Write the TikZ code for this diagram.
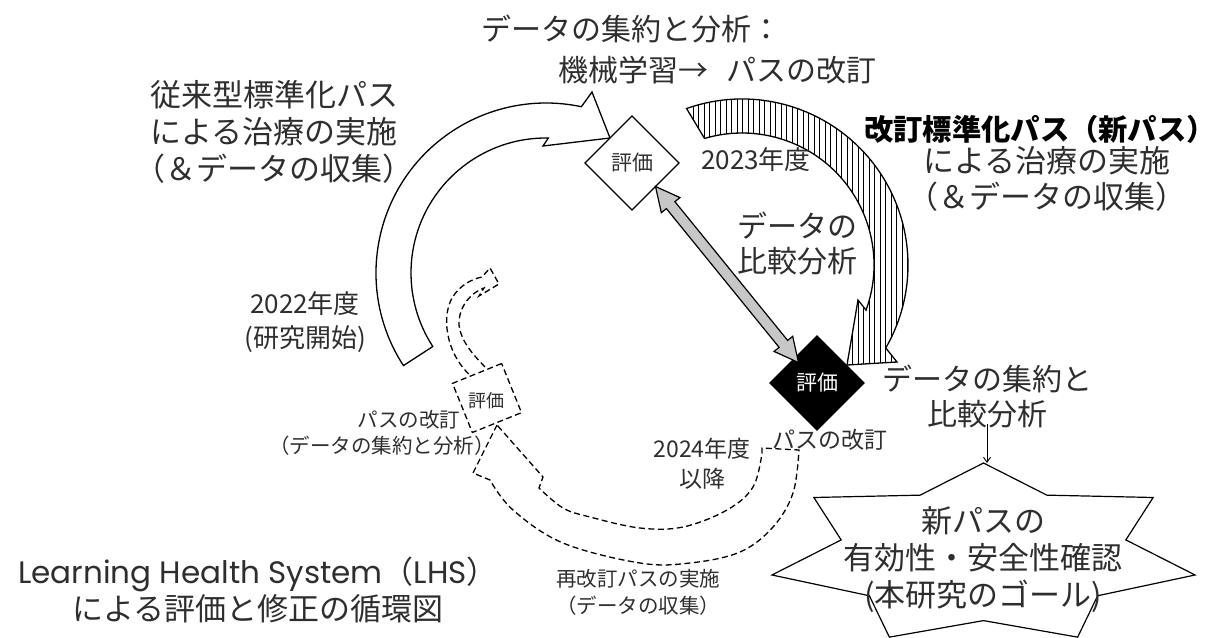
\documentclass[tikz,border=0pt]{standalone}
\usepackage{fontspec}
\setmainfont{Noto Sans CJK JP}
\newfontfamily\latf{Poppins}
\usetikzlibrary{shapes.geometric,calc,patterns.meta,arrows.meta}
\newcommand{\hwp}[1]{{\addfontfeature{RawFeature=+halt}#1}}
\begin{document}
\begin{tikzpicture}[x=1pt,y=-1pt,
  every node/.style={inner sep=0pt, outer sep=0pt, text=black!82},
  shp/.style={draw=black, line width=1.3pt, line join=miter},
  dsh/.style={draw=black, line width=1.3pt, dash pattern=on 6pt off 3.5pt},
  fA/.style={font=\fontsize{31}{37}\selectfont},
  fB/.style={font=\fontsize{30}{35}\selectfont},
  fC/.style={font=\fontsize{26}{34}\selectfont},
  fD/.style={font=\fontsize{23}{30}\selectfont},
  fE/.style={font=\fontsize{21}{25}\selectfont},
  fF/.style={font=\fontsize{20.5}{27}\selectfont},
  fG/.style={font=\fontsize{18}{22}\selectfont},
  evalbox/.style={shape=diamond, aspect=1, minimum width=94pt, minimum height=94pt, line width=1.3pt}
]
\useasboundingbox (0,0) rectangle (1223,637);

% ---------- left white curved arrow (2022) ----------
\coordinate (c1) at (546,273);
\draw[shp, fill=white] ($(c1)+(147:170)$) arc[start angle=147, end angle=282, radius=170]
  -- (592,92) -- (610,138) -- (543,146)
  -- ($(c1)+(271:135)$) arc[start angle=271, end angle=147, radius=135] -- cycle;

% ---------- right hatched curved arrow (2023) ----------
\coordinate (c2) at (742,265);
\draw[shp, preaction={fill=white}, pattern={Lines[angle=90, distance=5.5pt, line width=0.9pt]}]
  ($(c2)+(250.5:166)$) arc[start angle=250.5, end angle=390, radius=166]
  -- (897,362) -- (847,365) -- (858,300)
  -- ($(c2)+(380:132)$) arc[start angle=380, end angle=253.5, radius=132] -- cycle;

% ---------- dashed arrows (2024 and later) ----------
\draw[dsh] (476,380) .. controls (448,360) and (440,320) .. (452,298)
  .. controls (460,285) and (472,279) .. (482,277) -- (490,268) -- (499,284) -- (479,296) -- (484,288)
  .. controls (468,294) and (458,310) .. (459,325) .. controls (461,342) and (474,356) .. (490,372);
\draw[dsh] (497,425) -- (473,473)
  -- plot[smooth, tension=0.6] coordinates {(490,480) (513,510) (563,543) (640,563) (690,563) (740,552) (773,527) (793,493) (799,450)}
  -- (762,448)
  -- plot[smooth, tension=0.6] coordinates {(762,453) (753,487) (727,510) (683,527) (640,528) (590,517) (563,508) (539,488)}
  -- (543,477) -- cycle;

% ---------- evaluation nodes ----------
\node[evalbox, draw=black, fill=white, fE] (ev1) at (632,163) {評価};
\node[evalbox, draw=black, fill=black, text=white, fE] (ev2) at (817,383) {評価};
\node[dsh, fill=white, rotate=22, minimum width=53pt, minimum height=53pt] (ev3) at (487,398) {};
\node[fG] (ev3t) at (486,401) {評価};

% ---------- grey double arrow ----------
\coordinate (A) at (ev1.south east);
\coordinate (B) at ($(ev2.north west)+(5,3)$);
\coordinate (A1) at ($(A)!24pt!(B)$);
\coordinate (B1) at ($(B)!24pt!(A)$);
\draw[shp, fill=black!22, line width=1.2pt] (A) -- ($(A1)!12pt!90:(B)$) -- ($(A1)!5.5pt!90:(B)$)
  -- ($(B1)!5.5pt!-90:(A)$) -- ($(B1)!12pt!-90:(A)$) -- (B)
  -- ($(B1)!12pt!90:(A)$) -- ($(B1)!5.5pt!90:(A)$)
  -- ($(A1)!5.5pt!-90:(B)$) -- ($(A1)!12pt!-90:(B)$) -- cycle;

% ---------- goal star ----------
\begin{scope}[shift={(983.5,554.6)}]
\draw[shp, fill=white, line width=1.2pt]
  (270:217 and 91.6) -- (295.71:146 and 66) -- (321.43:217 and 91.6) -- (347.14:146 and 66)
  -- (372.86:217 and 91.6) -- (38.57:146 and 66) -- (64.29:217 and 91.6) -- (90:146 and 66)
  -- (115.71:217 and 91.6) -- (141.43:146 and 66) -- (167.14:217 and 91.6) -- (192.86:146 and 66)
  -- (218.57:217 and 91.6) -- (244.29:146 and 66) -- cycle;
\coordinate (startop) at (270:217 and 91.6);
\end{scope}
\node[fA, align=center] (goal) at (983,560) {新パスの\\有効性・安全性確認\\(本研究のゴール)};

% ---------- texts ----------
\node[fB, anchor=west] (top1) at (481,29) {データの集約と分析：};
\node[fB, anchor=west] (top2) at (558,70) {機械学習→\hspace{0.6em}パスの改訂};
\node[fA, align=left, anchor=west] (trad) at (150,132) {従来型標準化パス\\による治療の実施\\\hwp{（}＆データの収集\hwp{）}};
\node[fC, align=center] (y2022) at (305,322) {2022年度\\(研究開始)};
\node[fC] (y2023) at (756,160) {2023年度};
\node[fB, align=center] (cmp) at (797,243) {データの\\比較分析};
\node[fB, text=black] (newp1) at (1040,129) {\fontsize{29.3}{34}\selectfont\bfseries 改訂標準化パス（新パス）};
\node[font=\fontsize{31}{36}\selectfont, align=center] (newp2) at (1047,179) {による治療の実施\\（＆データの収集）};
\node[fB, align=center] (agg) at (987,396) {データの集約と\\比較分析};
\node[fD] (rev0) at (830,440) {パスの改訂};
\node[fD, align=center] (y2024) at (702,464) {2024年度\\以降};
\node[fF] (rev1a) at (409,420) {パスの改訂};
\node[fF] (rev1b) at (382,446) {（データの集約と分析）};
\node[fF, align=center] (rerev) at (638,592) {再改訂パスの実施\\（データの収集）};
\node[fA, align=center] (lhs) at (258,590) {{\latf Learning Health System}（{\latf LHS}）\\による評価と修正の循環図};

% ---------- arrow to goal ----------
\draw[line width=0.9pt, -{Straight Barb[length=5pt, width=7pt]}] ([yshift=4pt]agg.south) -- (agg.south |- startop);
\end{tikzpicture}
\end{document}
